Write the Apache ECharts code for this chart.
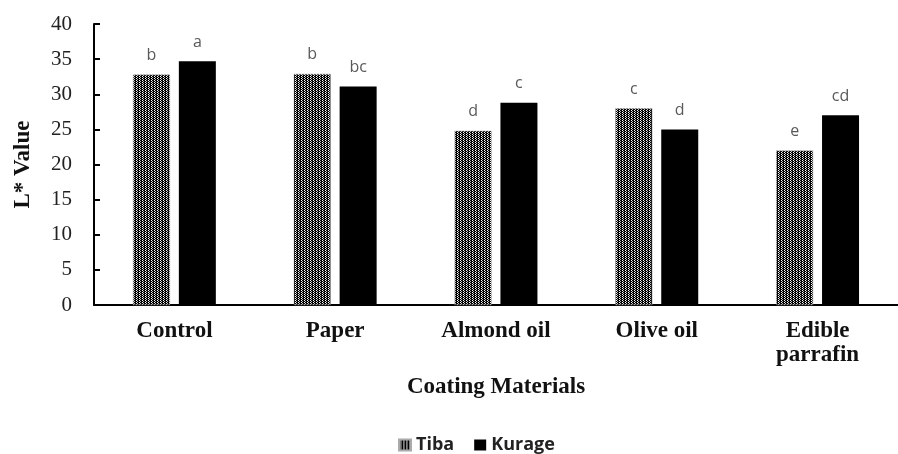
<!DOCTYPE html>
<html>
<head>
<meta charset="utf-8">
<script src="https://cdn.jsdelivr.net/npm/echarts@6/dist/echarts.min.js"></script>
<style>
html,body{margin:0;padding:0;background:#fff;}
#chart{width:898px;height:454px;}
</style>
</head>
<body>
<div id="chart"></div>
<script>
const categories = ['Control', 'Paper', 'Almond oil', 'Olive oil', 'Edible\nparrafin'];
const tibaValues = [32.8, 32.9, 24.8, 28.0, 22.0];
const kurageValues = [34.7, 31.1, 28.8, 25.0, 27.0];
const tibaLetters = ['b', 'b', 'd', 'c', 'e'];
const kurageLetters = ['a', 'bc', 'c', 'd', 'cd'];
const yTicks = [0, 5, 10, 15, 20, 25, 30, 35, 40];

function makePattern() {
  const c = document.createElement('canvas');
  c.width = 3; c.height = 2;
  const ctx = c.getContext('2d');
  ctx.fillStyle = '#000';
  ctx.fillRect(0, 0, 3, 2);
  ctx.fillStyle = '#fff';
  ctx.fillRect(1, 0, 1, 1);
  ctx.fillStyle = '#bbb';
  ctx.fillRect(2, 1, 1, 1);
  return { image: c, repeat: 'repeat' };
}
const tibaPattern = makePattern();

const chart = echarts.init(document.getElementById('chart'), null, { renderer: 'canvas' });
const serif = '"Liberation Serif", "Times New Roman", serif';
const sans = '"Open Sans", "Noto Sans", sans-serif';

chart.setOption({
  animation: false,
  backgroundColor: '#fff',
  grid: { left: 94, top: 24, width: 815, bottom: 149, containLabel: false },
  legend: {
    left: 393, top: 431,
    icon: 'rect',
    itemWidth: 12, itemHeight: 11, itemGap: 20,
    textStyle: { fontFamily: sans, fontWeight: 'bold', fontSize: 18, color: '#222' },
    data: ['Tiba', 'Kurage']
  },
  xAxis: {
    type: 'category',
    data: categories,
    name: 'Coating Materials',
    nameLocation: 'middle',
    nameGap: 71,
    nameTextStyle: { fontFamily: serif, fontWeight: 'bold', fontSize: 23, color: '#111' },
    axisLine: { lineStyle: { color: '#000', width: 2 } },
    axisTick: { show: false },
    axisLabel: { fontFamily: serif, fontWeight: 'bold', fontSize: 23, color: '#111', margin: 14, lineHeight: 24, interval: 0 }
  },
  yAxis: {
    type: 'value',
    min: 0, max: 40, interval: 5,
    name: 'L* Value',
    nameLocation: 'middle',
    nameGap: 59,
    nameTextStyle: { fontFamily: serif, fontWeight: 'bold', fontSize: 23, color: '#111' },
    axisLine: { show: true, lineStyle: { color: '#000', width: 2 } },
    axisTick: { show: true, inside: true, length: 6, lineStyle: { color: '#000', width: 2 } },
    splitLine: { show: false },
    axisLabel: {
      fontFamily: serif, fontSize: 21, color: '#222', margin: 22,
      formatter: function (v) { return yTicks.indexOf(v) >= 0 ? String(v) : ''; }
    }
  },
  series: [
    {
      name: 'Tiba', type: 'bar', data: tibaValues,
      barWidth: 37, barGap: '24%',
      itemStyle: { color: tibaPattern, borderColor: '#aaa', borderWidth: 0.5 },
      label: {
        show: true, position: 'top', distance: 11,
        fontFamily: sans, fontSize: 16, color: '#595959',
        formatter: function (p) { return tibaLetters[p.dataIndex]; }
      }
    },
    {
      name: 'Kurage', type: 'bar', data: kurageValues,
      barWidth: 37,
      itemStyle: { color: '#000' },
      label: {
        show: true, position: 'top', distance: 11,
        fontFamily: sans, fontSize: 16, color: '#595959',
        formatter: function (p) { return kurageLetters[p.dataIndex]; }
      }
    }
  ]
});
</script>
</body>
</html>
